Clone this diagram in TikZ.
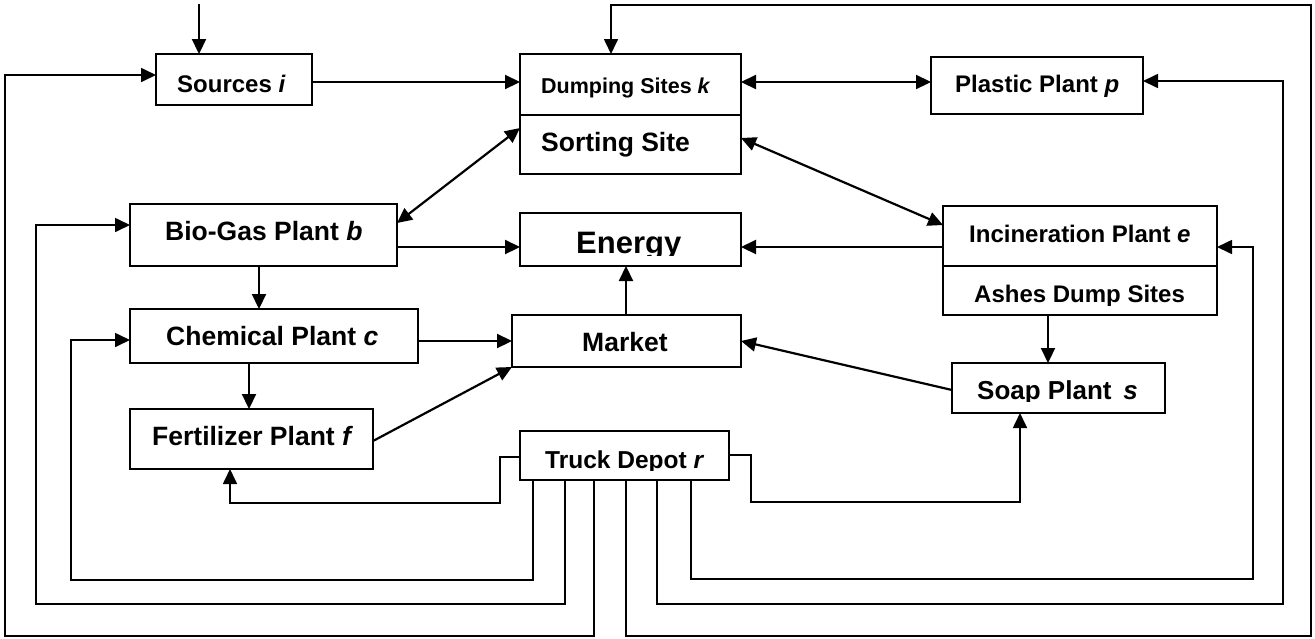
\documentclass[tikz,border=0pt]{standalone}
\usepackage{fontspec}
\setmainfont{Liberation Sans}
\usetikzlibrary{arrows.meta}
\newcommand{\fsz}[1]{\fontsize{#1}{#1}\selectfont\bfseries}

\begin{document}
\begin{tikzpicture}[x=1pt,y=-1pt,
  box/.style={draw, line width=1.8pt, rectangle, inner sep=0pt, outer sep=0pt, anchor=north west},
  lbl/.style={inner sep=0pt, anchor=base west},
  tip/.style={-{Triangle[length=15pt,width=14pt]}},
  flow/.style={line width=2.2pt, tip},
  both/.style={line width=2.2pt, {Triangle[length=15pt,width=14pt]}-{Triangle[length=15pt,width=14pt]}},
  route/.style={line width=1.7pt},
  feed/.style={route, tip}]

% canvas
\path[fill=white] (0,0) rectangle (1315,638);
\useasboundingbox (0,0) rectangle (1315,638);

% boxes
\node[box, minimum width=156pt, minimum height=51pt] (src)    at (156,54)  {};
\node[box, minimum width=221pt, minimum height=61pt] (dump)   at (520,54)  {};
\node[box, minimum width=221pt, minimum height=59pt] (sort)   at (520,115) {};
\node[box, minimum width=212pt, minimum height=57pt] (plast)  at (931,57)  {};
\node[box, minimum width=267pt, minimum height=62pt] (bio)    at (130,204) {};
\node[box, minimum width=221pt, minimum height=53pt] (energy) at (520,213) {};
\node[box, minimum width=274pt, minimum height=60pt] (incin)  at (943,206) {};
\node[box, minimum width=274pt, minimum height=49pt] (ash)    at (943,266) {};
\node[box, minimum width=288pt, minimum height=54pt] (chem)   at (130,309) {};
\node[box, minimum width=229pt, minimum height=52pt] (market) at (512,315) {};
\node[box, minimum width=213pt, minimum height=50pt] (soap)   at (952,363) {};
\node[box, minimum width=243pt, minimum height=60pt] (fert)   at (130,409) {};
\node[box, minimum width=209pt, minimum height=49pt] (truck)  at (520,431) {};

% labels
\node[lbl, font=\fsz{24}]   (l-src)   at (177,92.7)  {Sources \textit{i}};
\node[lbl, font=\fsz{21.5}] (l-dump)  at (541,93.3)  {Dumping Sites \textit{k}};
\node[lbl, font=\fsz{26.5}] (l-sort)  at (541,151)   {Sorting Site};
\node[lbl, font=\fsz{24}]   (l-plast) at (955,92.7)  {Plastic Plant \textit{p}};
\node[lbl, font=\fsz{26.5}] (l-bio)   at (165,240.7) {Bio-Gas Plant \textit{b}};
\node[lbl, font=\fsz{24}]   (l-incin) at (969,242.3) {Incineration Plant \textit{e}};
\node[lbl, font=\fsz{26.5}] (l-chem)  at (166,345.7) {Chemical Plant \textit{c}};
\node[lbl, font=\fsz{26.5}] (l-mkt)   at (582,351.3) {Market};
\node[lbl, font=\fsz{26.5}] (l-fert)  at (152,445.7) {Fertilizer Plant \textit{f}};
\begin{scope}
  \clip (energy.north west) rectangle (741,255.5);
  \node[lbl, font=\fsz{31}] (l-energy) at (576,253.3) {Energy};
\end{scope}
\begin{scope}
  \clip (ash.north west) rectangle (1217,305);
  \node[lbl, font=\fsz{24}] (l-ash) at (974,302.7) {Ashes Dump Sites};
\end{scope}
\begin{scope}
  \clip (soap.north west) rectangle (1165,401.5);
  \node[lbl, font=\fsz{26}] (l-soap) at (977,399.7) {Soap Plant\hspace{0.45em}\textit{s}};
\end{scope}
\begin{scope}
  \clip (truck.north west) rectangle (729,470);
  \node[lbl, font=\fsz{24.5}] (l-truck) at (545,468) {Truck Depot \textit{r}};
\end{scope}

% main flows
\coordinate (in0) at (199,4);
\draw[flow] (in0) -- (in0 |- src.north);
\draw[flow] (src.east |- 0,82) -- (dump.west |- 0,82);
\draw[both] (dump.east |- 0,82) -- (plast.west |- 0,82);
\draw[both] (bio.east |- 0,223) -- (sort.west |- 0,128);
\draw[both] (sort.east |- 0,138) -- (incin.west |- 0,225);
\draw[flow] (bio.east |- 0,247) -- (energy.west |- 0,247);
\draw[flow] (incin.west |- 0,247) -- (energy.east |- 0,247);
\draw[flow] (626,0 |- market.north) -- (626,0 |- energy.south);
\draw[flow] (259,0 |- bio.south) -- (259,0 |- chem.north);
\draw[flow] (chem.east |- 0,341) -- (market.west |- 0,341);
\draw[flow] (249,0 |- chem.south) -- (249,0 |- fert.north);
\draw[flow] (fert.east |- 0,441) -- (market.south west);
\draw[flow] (soap.west |- 0,390) -- (market.east |- 0,341);
\draw[flow] (1048,0 |- ash.south) -- (1048,0 |- soap.north);

% truck depot routes
\draw[feed] (truck.west |- 0,457) -| (500,503) -| (230,0 |- fert.south);
\draw[feed] (truck.east |- 0,455) -| (751,502) -| (1020,0 |- soap.south);
\draw[feed] (533,0 |- truck.south) |- (71,580) |- (chem.west |- 0,340);
\draw[feed] (565,0 |- truck.south) |- (36,604) |- (bio.west |- 0,225);
\draw[feed] (594,0 |- truck.south) |- (5,636) |- (src.west |- 0,75);
\draw[feed] (626,0 |- truck.south) |- (1311,636) |- (611,5) -- (611,0 |- dump.north);
\draw[feed] (657,0 |- truck.south) |- (1283,604) |- (plast.east |- 0,81);
\draw[feed] (691,0 |- truck.south) |- (1253,579) |- (incin.east |- 0,247);
\end{tikzpicture}
\end{document}
